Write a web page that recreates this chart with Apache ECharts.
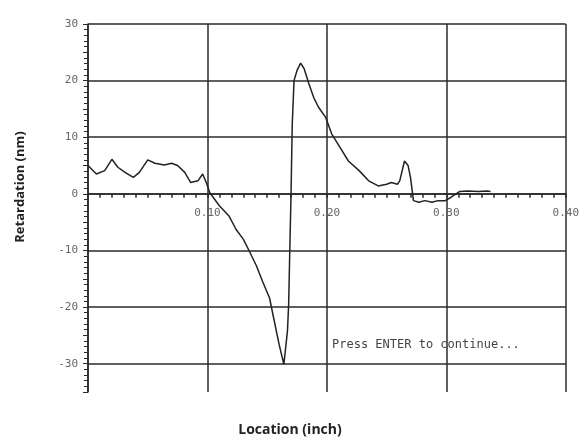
<!DOCTYPE html>
<html>
<head>
<meta charset="utf-8">
<script src="https://cdn.jsdelivr.net/npm/echarts@6/dist/echarts.min.js"></script>
<style>
  html, body { margin: 0; padding: 0; background: #fff; }
  #main { width: 582px; height: 438px; }
</style>
</head>
<body>
<div id="main"></div>
<script>
// location along the sample (inch)
const locations = [
  0.000, 0.007, 0.014, 0.020, 0.025, 0.031, 0.038, 0.043, 0.050, 0.056,
  0.064, 0.070, 0.075, 0.081, 0.086, 0.092, 0.096, 0.099, 0.102, 0.110,
  0.118, 0.124, 0.130, 0.135, 0.141, 0.146, 0.152, 0.156, 0.160, 0.164,
  0.167, 0.168, 0.169, 0.170, 0.171, 0.1725, 0.175, 0.178, 0.181, 0.185,
  0.189, 0.193, 0.199, 0.204, 0.211, 0.218, 0.227, 0.235, 0.243, 0.250,
  0.254, 0.259, 0.261, 0.265, 0.268, 0.270, 0.2725, 0.277, 0.282, 0.288,
  0.293, 0.299, 0.304, 0.311, 0.318, 0.327, 0.334, 0.337
];
// retardation (nm)
const retardation = [
  5.0, 3.5, 4.1, 6.1, 4.7, 3.8, 2.9, 3.8, 6.0, 5.4,
  5.1, 5.4, 5.0, 3.8, 2.0, 2.3, 3.5, 2.0, 0.2, -2.1,
  -3.9, -6.3, -8.0, -10.1, -12.7, -15.4, -18.4, -22.5, -26.6, -30.1,
  -24.2, -19.5, -9.5, 0.0, 12.3, 20.0, 21.8, 23.1, 22.1, 19.4,
  17.0, 15.3, 13.5, 10.6, 8.2, 5.8, 4.1, 2.3, 1.4, 1.7,
  2.0, 1.7, 2.3, 5.8, 5.0, 2.9, -1.2, -1.5, -1.2, -1.5,
  -1.2, -1.2, -0.6, 0.4, 0.5, 0.4, 0.5, 0.4
];

const yMin = -35, yMax = 30;
const gridTop = 24, gridBottom = 46, chartH = 438;

const chart = echarts.init(document.getElementById('main'));
const gridColor = '#2a2a2a';
const tickFont = { fontFamily: 'DejaVu Sans Mono', fontSize: 11, color: '#666' };

// pull the bottom x axis up so it sits on the zero line, labels included
const plotH = chartH - gridTop - gridBottom;
const zeroOffset = -plotH * (0 - yMin) / (yMax - yMin);

const option = {
  backgroundColor: '#fff',
  animation: false,
  grid: { left: 88, right: 12, top: gridTop, bottom: gridBottom },
  xAxis: {
    type: 'value',
    min: 0,
    max: 0.4,
    interval: 0.1,
    position: 'bottom',
    offset: zeroOffset,
    axisLine: { onZero: false, lineStyle: { color: gridColor, width: 1.5 } },
    axisTick: { show: true, length: 4, lineStyle: { color: gridColor, width: 1.5 } },
    minorTick: { show: true, splitNumber: 10, length: 4, lineStyle: { color: gridColor, width: 1.5 } },
    axisLabel: Object.assign({
      margin: 14,
      formatter: v => (v === 0 ? '' : v.toFixed(2))
    }, tickFont),
    splitLine: { show: true, lineStyle: { color: gridColor, width: 1.5 } }
  },
  yAxis: {
    type: 'value',
    min: yMin,
    max: yMax,
    interval: 5,
    axisLine: { show: true, lineStyle: { color: gridColor, width: 1.5 } },
    axisTick: { show: true, length: 5, lineStyle: { color: gridColor, width: 1 } },
    minorTick: { show: true, splitNumber: 5, length: 4, lineStyle: { color: gridColor, width: 1 } },
    axisLabel: Object.assign({
      margin: 10,
      formatter: v => (v % 10 === 0 ? String(v) : '')
    }, tickFont),
    splitLine: { show: true, lineStyle: { color: ['rgba(0,0,0,0)', gridColor], width: 1.5 } }
  },
  series: [{
    type: 'line',
    data: locations.map((x, i) => [x, retardation[i]]),
    showSymbol: false,
    smooth: false,
    lineStyle: { color: '#222', width: 1.5 }
  }],
  graphic: [
    {
      type: 'text',
      x: 20, y: 187,
      rotation: Math.PI / 2,
      style: {
        text: 'Retardation (nm)',
        font: 'bold 13px "Open Sans"',
        fill: '#222',
        align: 'center',
        verticalAlign: 'middle'
      }
    },
    {
      type: 'text',
      x: 290, y: 430,
      style: {
        text: 'Location (inch)',
        font: 'bold 14px "Open Sans"',
        fill: '#222',
        align: 'center',
        verticalAlign: 'middle'
      }
    },
    {
      type: 'text',
      x: 332, y: 345,
      style: {
        text: 'Press ENTER to continue...',
        font: '12px "DejaVu Sans Mono"',
        fill: '#444',
        align: 'left',
        verticalAlign: 'middle'
      }
    }
  ]
};

chart.setOption(option);
</script>
</body>
</html>
